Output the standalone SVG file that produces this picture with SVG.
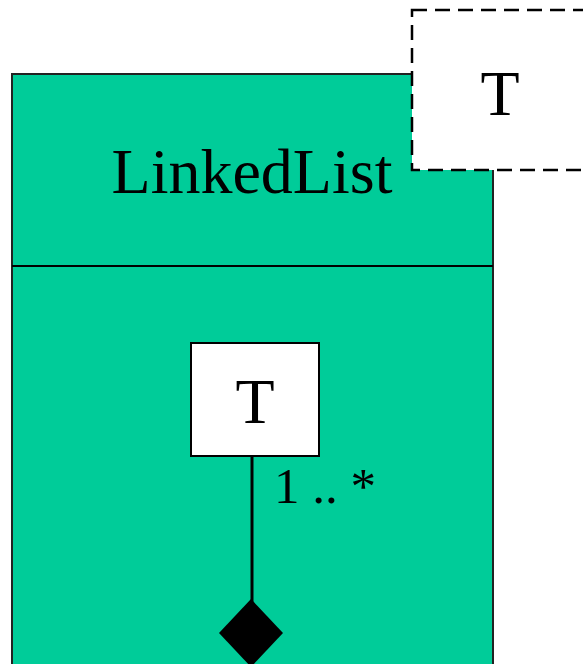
<svg xmlns="http://www.w3.org/2000/svg" width="583" height="664" viewBox="0 0 583 664">
<style>
text{font-family:"Liberation Serif","Times New Roman",serif;fill:#000}
.cls{fill:#00CC99;stroke:#222;stroke-width:2}
.box{fill:#fff;stroke:#000;stroke-width:2}
.dash{fill:#fff;stroke:#000;stroke-width:2.5;stroke-dasharray:15 8}
</style>
<rect width="583" height="664" fill="#fff"/>
<g id="linkedlist">
<rect class="cls" x="12" y="74" width="481" height="620"/>
<line x1="12" y1="266" x2="493" y2="266" stroke="#000" stroke-width="2"/>
<text x="252" y="193" font-size="64" text-anchor="middle">LinkedList</text>
</g>
<g id="template-param">
<rect class="dash" x="412" y="10" width="200" height="160"/>
<text x="500" y="115" font-size="64" text-anchor="middle">T</text>
</g>
<g id="t-part">
<rect class="box" x="191" y="343" width="128" height="113"/>
<text x="255" y="423" font-size="64" text-anchor="middle">T</text>
</g>
<g id="connectors">
<line x1="252" y1="456" x2="252" y2="602" stroke="#000" stroke-width="3"/>
<polygon points="251,599 283,633 251,667 219,633" fill="#000"/>
<text x="274" y="503" font-size="51">1 .. *</text>
</g>
</svg>
